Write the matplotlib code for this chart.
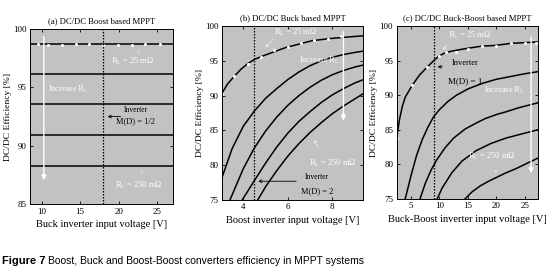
import matplotlib
matplotlib.use("Agg")
import matplotlib.pyplot as plt

plt.rcParams['font.family'] = ['Liberation Serif', 'DejaVu Serif']
plt.rcParams['mathtext.fontset'] = 'custom'
plt.rcParams['mathtext.rm'] = 'Liberation Serif'
plt.rcParams['mathtext.it'] = 'Liberation Serif:italic'

# (a) Boost based MPPT - efficiency flat over input voltage
volts_a = [8.5, 12, 16, 20, 24, 27]
eff_a = [
    [98.75, 98.75, 98.75, 98.75, 98.75, 98.75],   # RL = 25 mOhm
    [96.15, 96.15, 96.15, 96.15, 96.15, 96.15],
    [93.55, 93.55, 93.55, 93.55, 93.55, 93.55],
    [90.95, 90.95, 90.95, 90.95, 90.95, 90.95],
    [88.3, 88.3, 88.3, 88.3, 88.3, 88.3],         # RL = 250 mOhm
]
pts_a_x = [9.6, 10.8, 12.7, 14.5, 16.2, 18.0, 19.9, 21.7, 23.4, 25.3]
pts_a_y = [98.7, 98.6, 98.65, 98.7, 98.7, 98.65, 98.6, 98.65, 98.7, 98.7]

# (b) Buck based MPPT
volts_b1 = [3.05, 3.3, 3.6, 3.9, 4.2, 4.5, 4.8, 5.3, 5.9, 6.5, 7.1, 7.9, 8.6, 9.4]
eff_b1 = [90.4, 91.7, 92.8, 93.8, 94.6, 95.2, 95.6, 96.2, 96.9, 97.4, 97.9, 98.2, 98.4, 98.6]
volts_b2 = [3.05, 3.5, 4.0, 4.5, 5.0, 5.5, 6.0, 6.5, 7.0, 7.5, 8.0, 8.5, 9.0, 9.4]
eff_b2 = [78.3, 82.4, 85.6, 87.8, 89.6, 91.0, 92.3, 93.4, 94.3, 95.0, 95.5, 95.9, 96.2, 96.4]
volts_b3 = [3.4, 4.0, 4.5, 5.0, 5.5, 6.0, 6.5, 7.0, 7.5, 8.0, 8.5, 9.0, 9.4]
eff_b3 = [75.0, 79.5, 82.5, 84.9, 86.9, 88.6, 90.0, 91.2, 92.2, 93.0, 93.6, 94.1, 94.4]
volts_b4 = [3.95, 4.5, 5.0, 5.5, 6.0, 6.5, 7.0, 7.5, 8.0, 8.5, 9.0, 9.4]
eff_b4 = [75.0, 77.8, 80.3, 82.6, 84.6, 86.3, 87.7, 89.0, 90.1, 91.0, 91.8, 92.3]
volts_b5 = [4.65, 5.0, 5.5, 6.0, 6.5, 7.0, 7.5, 8.0, 8.5, 9.0, 9.4]
eff_b5 = [75.0, 76.9, 79.2, 81.3, 83.1, 84.7, 86.1, 87.4, 88.5, 89.5, 90.3]
pts_b_x = [3.05, 3.6, 4.2, 4.8, 5.4, 6.0, 6.6, 7.2, 7.8, 8.4]
pts_b_y = [90.3, 92.8, 94.6, 95.6, 96.5, 97.0, 97.5, 98.0, 98.1, 98.5]

# (c) Buck-Boost based MPPT
volts_c1 = [2.5, 3.0, 3.5, 4.0, 5.2, 6.5, 7.9, 9.0, 10.0, 11.2, 13.0, 15.1, 17.5, 19.9, 22.6, 25.0, 27.3]
eff_c1 = [83.8, 86.5, 88.4, 89.7, 91.4, 92.9, 94.1, 95.0, 95.7, 96.2, 96.5, 96.8, 97.1, 97.2, 97.5, 97.6, 97.7]
volts_c2 = [4.0, 5.0, 6.0, 7.0, 8.0, 9.0, 10.0, 11.5, 13.0, 15.0, 17.5, 20.0, 22.5, 25.0, 27.3]
eff_c2 = [75.0, 78.3, 81.3, 83.6, 85.4, 86.9, 87.9, 89.1, 90.0, 90.9, 91.7, 92.3, 92.7, 93.1, 93.4]
volts_c3 = [6.6, 7.5, 8.5, 9.5, 11.0, 12.5, 14.5, 16.3, 18.0, 20.0, 21.7, 24.0, 27.3]
eff_c3 = [75.0, 77.2, 79.1, 80.6, 82.4, 83.8, 85.1, 85.9, 86.6, 87.2, 87.6, 88.2, 88.9]
volts_c4 = [9.6, 10.5, 12.2, 14.0, 16.5, 19.0, 21.7, 24.0, 27.3]
eff_c4 = [75.0, 76.6, 78.8, 80.5, 82.0, 83.0, 83.8, 84.3, 85.0]
volts_c5 = [14.5, 15.7, 17.2, 18.5, 20.0, 21.5, 23.5, 25.5, 27.3]
eff_c5 = [75.0, 76.0, 76.9, 77.5, 78.1, 78.7, 79.4, 80.2, 80.9]
pts_c_x = [2.6, 5.2, 7.9, 10.0, 11.2, 13.0, 15.1, 17.5, 19.9, 22.6, 25.0, 27.0]
pts_c_y = [83.8, 91.5, 94.1, 95.7, 96.3, 96.3, 96.7, 97.1, 97.1, 97.5, 97.5, 97.6]

bg = '#c2c2c2'
fig = plt.figure(figsize=(5.54, 2.74), dpi=100)
ax_a = fig.add_axes([0.054, 0.255, 0.258, 0.639])
ax_b = fig.add_axes([0.401, 0.270, 0.255, 0.635])
ax_c = fig.add_axes([0.716, 0.274, 0.255, 0.631])

titles = ['(a) DC/DC Boost based MPPT', '(b) DC/DC Buck based MPPT',
          '(c) DC/DC Buck-Boost based MPPT']
xlabels = ['Buck inverter input voltage [V]', 'Boost inverter input voltage [V]',
           'Buck-Boost inverter input voltage [V]']
for ax, t, xl in zip([ax_a, ax_b, ax_c], titles, xlabels):
    ax.set_facecolor(bg)
    ax.set_title(t, fontsize=6.2, pad=4)
    ax.set_xlabel(xl, fontsize=7.5, labelpad=3)
    ax.set_ylabel('DC/DC Efficiency [%]', fontsize=6.8, labelpad=1)
    ax.tick_params(direction='in', length=2.5, width=0.6, labelsize=6.5, pad=2.5,
                   top=True, right=True)
    for s in ax.spines.values():
        s.set_linewidth(0.7)

lw = 1.1
sub = r'R$_{\rm L}$'

# panel a
for e in eff_a:
    ax_a.plot(volts_a, e, color='black', lw=lw)
ax_a.plot(pts_a_x, pts_a_y, 'o', color='white', ms=2.2, mec='none')
ax_a.axvline(18, color='black', lw=0.9, ls=(0, (1.2, 1.2)))
ax_a.set_xlim(8.5, 27)
ax_a.set_ylim(85, 100)
ax_a.set_xticks([10, 15, 20, 25])
ax_a.set_yticks([85, 90, 95, 100])
ax_a.annotate('', xy=(10.3, 86.8), xytext=(10.3, 99.6),
              arrowprops=dict(arrowstyle='-|>', color='white', lw=1.0, mutation_scale=7))
ax_a.text(10.8, 94.8, 'Increase ' + sub, color='white', fontsize=6, va='center')
ax_a.text(19.0, 97.2, sub + ' = 25 m\u03a9', color='white', fontsize=6, va='center')
ax_a.text(22.6, 98.0, '^', color='white', fontsize=5, ha='center', va='center')
ax_a.text(19.5, 86.6, sub + ' = 250 m\u03a9', color='white', fontsize=6, va='center')
ax_a.text(23.0, 87.7, '^', color='white', fontsize=5, ha='center', va='center')
ax_a.annotate('', xy=(18.2, 92.5), xytext=(20.6, 92.5),
              arrowprops=dict(arrowstyle='->', color='black', lw=0.6, mutation_scale=5))
ax_a.text(22.2, 93.1, 'Inverter', fontsize=5.5, ha='center', va='center')
ax_a.text(22.2, 92.1, 'M(D) = 1/2', fontsize=6, ha='center', va='center')

# panel b
for vx, vy in [(volts_b1, eff_b1), (volts_b2, eff_b2), (volts_b3, eff_b3),
               (volts_b4, eff_b4), (volts_b5, eff_b5)]:
    ax_b.plot(vx, vy, color='black', lw=lw)
ax_b.plot(pts_b_x, pts_b_y, 'o', color='white', ms=2.2, mec='none')
ax_b.axvline(4.5, color='black', lw=0.9, ls=(0, (1.2, 1.2)))
ax_b.set_xlim(3.05, 9.4)
ax_b.set_ylim(75, 100)
ax_b.set_xticks([4, 6, 8])
ax_b.set_yticks([75, 80, 85, 90, 95, 100])
ax_b.annotate('', xy=(8.5, 86.0), xytext=(8.5, 99.6),
              arrowprops=dict(arrowstyle='-|>', color='white', lw=1.0, mutation_scale=7))
ax_b.text(5.4, 99.1, sub + ' = 25 m\u03a9', color='white', fontsize=6, va='center')
ax_b.annotate('', xy=(4.9, 96.6), xytext=(5.4, 98.4),
              arrowprops=dict(arrowstyle='->', color='white', lw=0.6, ls=':', mutation_scale=5))
ax_b.text(6.5, 95.0, 'Increase ' + sub, color='white', fontsize=6, va='center')
ax_b.text(6.95, 80.3, sub + ' = 250 m\u03a9', color='white', fontsize=6, va='center')
ax_b.annotate('', xy=(7.15, 84.0), xytext=(7.4, 82.3),
              arrowprops=dict(arrowstyle='->', color='white', lw=0.6, ls=':', mutation_scale=5))
ax_b.annotate('', xy=(4.55, 77.7), xytext=(6.5, 77.7),
              arrowprops=dict(arrowstyle='->', color='black', lw=0.6, mutation_scale=5))
ax_b.text(7.3, 78.3, 'Inverter', fontsize=5.5, ha='center', va='center')
ax_b.text(7.3, 76.3, 'M(D) = 2', fontsize=6, ha='center', va='center')

# panel c
for vx, vy in [(volts_c1, eff_c1), (volts_c2, eff_c2), (volts_c3, eff_c3),
               (volts_c4, eff_c4), (volts_c5, eff_c5)]:
    ax_c.plot(vx, vy, color='black', lw=lw)
ax_c.plot(pts_c_x, pts_c_y, 'o', color='white', ms=2.2, mec='none')
ax_c.axvline(9.0, color='black', lw=0.9, ls=(0, (1.2, 1.2)))
ax_c.set_xlim(2.5, 27.3)
ax_c.set_ylim(75, 100)
ax_c.set_xticks([5, 10, 15, 20, 25])
ax_c.set_yticks([75, 80, 85, 90, 95, 100])
ax_c.annotate('', xy=(26.1, 78.3), xytext=(26.1, 98.8),
              arrowprops=dict(arrowstyle='-|>', color='white', lw=1.0, mutation_scale=7))
ax_c.text(11.5, 98.7, sub + ' = 25 m\u03a9', color='white', fontsize=6, va='center')
ax_c.annotate('', xy=(10.3, 96.2), xytext=(11.6, 97.6),
              arrowprops=dict(arrowstyle='->', color='white', lw=0.6, ls=':', mutation_scale=5))
ax_c.text(17.8, 90.7, 'Increase ' + sub, color='white', fontsize=6, va='center')
ax_c.text(15.0, 81.1, sub + ' = 250 m\u03a9', color='white', fontsize=6, va='center')
ax_c.text(19.9, 79.0, 'v', color='white', fontsize=5, ha='center', va='center')
ax_c.annotate('', xy=(9.2, 94.1), xytext=(11.0, 94.1),
              arrowprops=dict(arrowstyle='->', color='black', lw=0.6, mutation_scale=5))
ax_c.text(14.6, 94.6, 'Inverter', fontsize=6, ha='center', va='center')
ax_c.text(14.6, 92.0, 'M(D) = 1', fontsize=6.5, ha='center', va='center')

# caption
cap1 = fig.text(0.004, 0.035, 'Figure 7', fontsize=8, fontweight='bold',
                family=['Liberation Sans', 'DejaVu Sans'])
fig.canvas.draw()
bb = cap1.get_window_extent()
x1 = bb.x1 / fig.bbox.width
fig.text(x1 + 0.004, 0.035, 'Boost, Buck and Boost-Boost converters efficiency in MPPT systems',
         fontsize=7.5, family=['Liberation Sans', 'DejaVu Sans'])

fig.savefig('out.png', dpi=100)
